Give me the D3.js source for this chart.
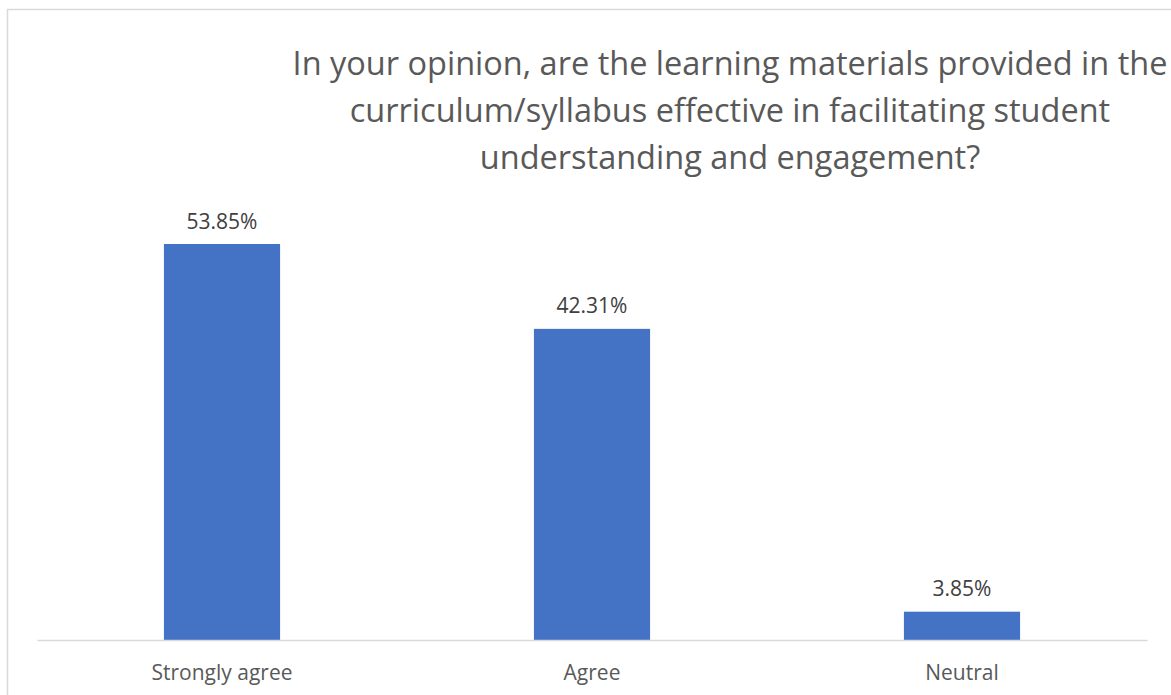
<!DOCTYPE html>
<html>
<head>
<meta charset="utf-8">
<script src="https://cdn.jsdelivr.net/npm/d3@7"></script>
<style>
  html, body { margin: 0; padding: 0; background: #fff; }
  svg { display: block; }
</style>
</head>
<body>
<svg id="chart" width="1171" height="695"></svg>
<script>
const titleLines = [
  "In your opinion, are the learning materials provided in the",
  "curriculum/syllabus effective in facilitating student",
  "understanding and engagement?"
];
const categories = ["Strongly agree", "Agree", "Neutral"];
const values = [53.85, 42.31, 3.85];
const valueLabels = ["53.85%", "42.31%", "3.85%"];

const svg = d3.select("#chart");
const font = "'Open Sans', 'Noto Sans', sans-serif";

// outer border
svg.append("rect")
  .attr("x", 7.5).attr("y", 9.5)
  .attr("width", 1200).attr("height", 700)
  .attr("fill", "#fff").attr("stroke", "#d9d9d9").attr("stroke-width", 1.5);

// title
svg.append("text")
  .attr("text-anchor", "middle")
  .attr("font-family", font).attr("font-size", 32.5)
  .attr("fill", "#595959")
  .selectAll("tspan").data(titleLines).join("tspan")
  .attr("x", 730).attr("y", (d, i) => 75 + i * 47)
  .text(d => d);

const plotLeft = 37, plotRight = 1147, baseY = 640;
const x = d3.scaleBand().domain(categories).range([plotLeft, plotRight]).padding(0);
const y = d3.scaleLinear().domain([0, 60]).range([baseY, baseY - 60 * (396 / 53.85)]);
const barW = x.bandwidth() * 0.314;

const data = categories.map((c, i) => ({ c, v: values[i], l: valueLabels[i] }));

svg.append("g").selectAll("rect").data(data).join("rect")
  .attr("x", d => x(d.c) + x.bandwidth() / 2 - barW / 2)
  .attr("y", d => y(d.v))
  .attr("width", barW)
  .attr("height", d => y(0) - y(d.v))
  .attr("fill", "#4472c4");

// axis
const xAxis = d3.axisBottom(x).tickSize(0);
const gx = svg.append("g").attr("transform", `translate(0,${baseY})`).call(xAxis);
gx.select(".domain").attr("stroke", "#d9d9d9").attr("stroke-width", 1.5);
gx.selectAll("text")
  .attr("y", 40).attr("dy", 0)
  .attr("font-family", font).attr("font-size", 21)
  .attr("fill", "#595959");

// value labels
svg.append("g").selectAll("text").data(data).join("text")
  .attr("x", d => x(d.c) + x.bandwidth() / 2)
  .attr("y", d => y(d.v) - 15.5)
  .attr("text-anchor", "middle")
  .attr("font-family", font).attr("font-size", 21)
  .attr("fill", "#404040")
  .text(d => d.l);
</script>
</body>
</html>
